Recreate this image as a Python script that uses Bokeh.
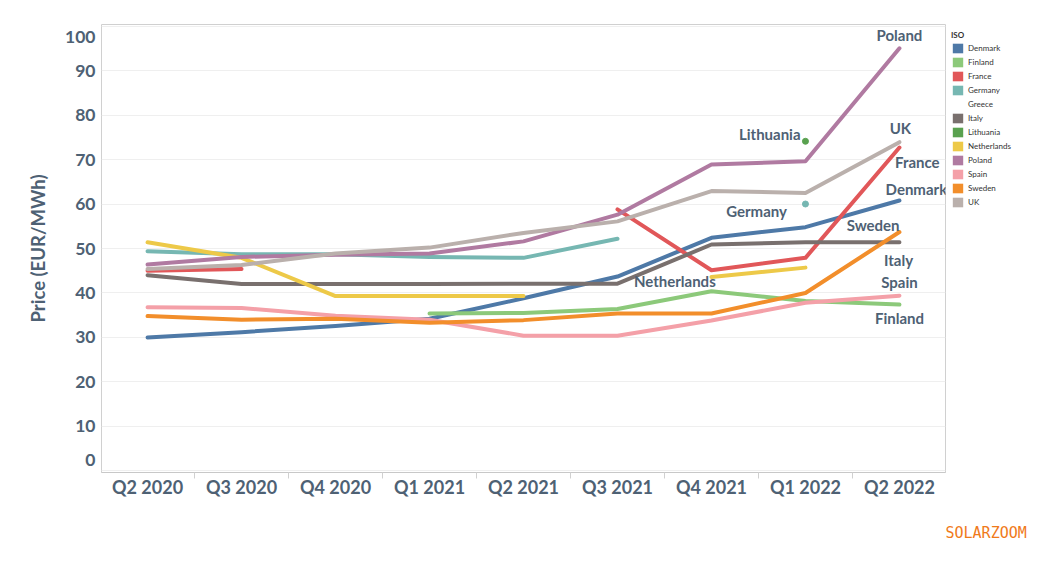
import math
from bokeh.plotting import figure
from bokeh.models import (Range1d, FixedTicker, Legend, LegendItem, ColumnDataSource, Title)
from bokeh.core.properties import value
from bokeh.embed import file_html
from bokeh.resources import INLINE

quarters = ["Q2 2020", "Q3 2020", "Q4 2020", "Q1 2021", "Q2 2021",
            "Q3 2021", "Q4 2021", "Q1 2022", "Q2 2022"]
N = None
denmark     = [30.0, 31.2, 32.6, 34.2, 38.8, 43.7, 52.4, 54.8, 60.8]
finland     = [N, N, N, 35.4, 35.5, 36.4, 40.4, 38.2, 37.4]
france      = [45.0, 45.4, N, N, N, 58.8, 45.1, 47.9, 72.7]
germany     = [49.4, 48.7, 48.7, 48.1, 47.9, 52.2, N, 60.0, N]
greece      = [N, N, N, N, N, N, N, N, N]
italy       = [44.0, 42.0, 42.0, 42.0, 42.1, 42.1, 50.9, 51.4, 51.4]
lithuania   = [N, N, N, N, N, N, N, 74.1, N]
netherlands = [51.4, 47.9, 39.3, 39.3, 39.3, N, 43.6, 45.7, N]
poland      = [46.4, 48.1, 48.6, 48.9, 51.6, 57.6, 68.9, 69.6, 95.0]
spain       = [36.8, 36.6, 34.9, 34.0, 30.4, 30.4, 33.8, 37.8, 39.4]
sweden      = [34.8, 34.0, 34.2, 33.3, 33.9, 35.4, 35.4, 40.0, 53.7]
uk          = [45.4, 46.3, 48.9, 50.2, 53.5, 56.1, 62.9, 62.5, 73.9]

countries = ["Denmark", "Finland", "France", "Germany", "Greece", "Italy",
             "Lithuania", "Netherlands", "Poland", "Spain", "Sweden", "UK"]
series = [denmark, finland, france, germany, greece, italy,
          lithuania, netherlands, poland, spain, sweden, uk]
colors = ["#4E79A7", "#8CC97A", "#E15759", "#76B7B2", None, "#79706E",
          "#59A14F", "#EDC948", "#B07AA1", "#F4A0A8", "#F28E2B", "#BAB0AC"]

y_ticks = [0, 10, 20, 30, 40, 50, 60, 70, 80, 90, 100]

# in-chart labels (annotation positions, x in quarter index, y in EUR/MWh)
label_names = ["Poland", "Lithuania", "UK", "France", "Denmark", "Germany",
               "Sweden", "Italy", "Netherlands", "Spain", "Finland"]
label_x = [8.0, 6.62, 8.01, 8.19, 8.18, 6.48, 7.72, 7.99, 5.61, 8.0, 8.0]
label_y = [97.9, 75.8, 77.1, 69.4, 63.3, 58.4, 55.3, 47.4, 42.7, 42.4, 34.4]

TXT = "#4E6174"
FONT = "Lato"

p = figure(frame_width=844, frame_height=448, output_backend="svg", toolbar_location=None,
           x_range=Range1d(-0.49, 8.49), y_range=Range1d(-0.35, 100.35),
           min_border_left=101, min_border_top=24, min_border_bottom=40,
           min_border_right=0)
p.background_fill_color = "white"
p.border_fill_color = "white"
p.outline_line_color = "#D0D0D0"
p.outline_line_width = 1

# x axis
p.xaxis.ticker = FixedTicker(ticks=list(range(len(quarters))),
                             minor_ticks=[i - 0.5 for i in range(len(quarters) + 1)])
p.xaxis.major_label_overrides = {i: q for i, q in enumerate(quarters)}
p.xaxis.major_tick_line_color = None
p.xaxis.major_tick_out = 0
p.xaxis.major_tick_in = 0
p.xaxis.minor_tick_line_color = "#D0D0D0"
p.xaxis.minor_tick_out = 6
p.xaxis.minor_tick_in = 0
p.xaxis.axis_line_color = "#C8C8C8"
p.xaxis.major_label_text_font = FONT
p.xaxis.major_label_text_font_size = "18px"
p.xaxis.major_label_text_font_style = "bold"
p.xaxis.major_label_text_color = TXT
p.xaxis.major_label_standoff = -3

# y axis: end labels sit slightly inside the frame, as in the original
y_label_pos = [2.4] + y_ticks[1:-1] + [97.6]
p.yaxis.ticker = FixedTicker(ticks=y_label_pos)
p.yaxis.major_label_overrides = {pos: str(t) for pos, t in zip(y_label_pos, y_ticks)}
p.ygrid.ticker = FixedTicker(ticks=y_ticks)
p.yaxis.axis_line_color = None
p.yaxis.major_tick_line_color = None
p.yaxis.major_tick_out = 0
p.yaxis.major_tick_in = 0
p.yaxis.minor_tick_line_color = None
p.yaxis.major_label_text_font = FONT
p.yaxis.major_label_text_font_size = "17.5px"
p.yaxis.major_label_text_font_style = "bold"
p.yaxis.major_label_text_color = TXT
p.yaxis.major_label_standoff = 6
p.yaxis.axis_label = "Price (EUR/MWh)"
p.yaxis.axis_label_text_font = FONT
p.yaxis.axis_label_text_font_size = "18.5px"
p.yaxis.axis_label_text_font_style = "bold"
p.yaxis.axis_label_text_color = TXT
p.yaxis.axis_label_standoff = 13

p.xgrid.grid_line_color = None
p.ygrid.grid_line_color = "#EFEFEF"
p.ygrid.grid_line_width = 1

xs = list(range(len(quarters)))
items = []
for name, vals, col in zip(countries, series, colors):
    ys = [math.nan if v is None else v for v in vals]
    if col is not None:
        p.line(xs, ys, line_color=col, line_width=4, line_join="round", line_cap="round")
        # isolated points
        px, py = [], []
        for i, v in enumerate(ys):
            if math.isnan(v):
                continue
            left = ys[i - 1] if i > 0 else math.nan
            right = ys[i + 1] if i < len(ys) - 1 else math.nan
            if math.isnan(left) and math.isnan(right):
                px.append(xs[i]); py.append(v)
        if px:
            p.scatter(px, py, size=6, color=col)
        sw = p.quad(left=[math.nan], right=[math.nan], top=[math.nan], bottom=[math.nan],
                    fill_color=col, line_color=None)
    else:
        sw = p.quad(left=[math.nan], right=[math.nan], top=[math.nan], bottom=[math.nan],
                    fill_alpha=0, line_alpha=0)
    items.append(LegendItem(label=name, renderers=[sw]))

src = ColumnDataSource(dict(x=label_x, y=label_y, t=label_names))
p.text(x="x", y="y", text="t", source=src, text_font=value(FONT),
       text_font_size="15px", text_font_style="bold", text_color=TXT,
       text_align="center", text_baseline="middle")

legend = Legend(items=items, title="ISO", location="top_left")
legend.title_text_font = FONT
legend.title_text_font_size = "8px"
legend.title_text_font_style = "bold"
legend.title_text_color = "#333333"
legend.title_standoff = 2
legend.label_text_font = FONT
legend.label_text_font_size = "8px"
legend.label_text_color = "#333333"
legend.label_height = 11
legend.label_standoff = 4
legend.glyph_height = 12
legend.glyph_width = 13
legend.spacing = 2
legend.padding = 2
legend.margin = 6
legend.border_line_color = None
legend.background_fill_alpha = 0
p.add_layout(legend, "right")

brand = Title(text="SOLARZOOM", align="left", offset=844,
              text_font="DejaVu Sans Mono", text_font_size="15px",
              text_color="#F07A1A", text_font_style="normal", standoff=43)
p.add_layout(brand, "below")

open("out.html", "w").write(file_html(p, INLINE))
